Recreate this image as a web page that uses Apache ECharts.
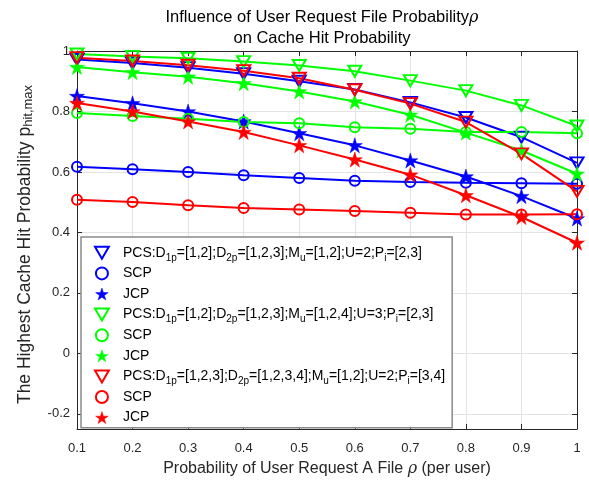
<!DOCTYPE html>
<html>
<head>
<meta charset="utf-8">
<script src="https://cdn.jsdelivr.net/npm/echarts@6/dist/echarts.min.js"></script>
<style>
  html, body { margin: 0; padding: 0; background: #fff; }
  #chart { width: 589px; height: 482px; }
</style>
</head>
<body>
<div id="chart"></div>
<script>
// Probability of a user requesting a file (x axis)
const rho = [0.1, 0.2, 0.3, 0.4, 0.5, 0.6, 0.7, 0.8, 0.9, 1];
const yTicks = [-0.2, 0, 0.2, 0.4, 0.6, 0.8, 1];

// Configuration 1 (blue)
const pcs1 = [0.972, 0.960, 0.945, 0.925, 0.900, 0.873, 0.830, 0.780, 0.715, 0.630];
const scp1 = [0.617, 0.609, 0.600, 0.589, 0.580, 0.571, 0.567, 0.564, 0.563, 0.561];
const jcp1 = [0.851, 0.827, 0.800, 0.767, 0.728, 0.688, 0.638, 0.585, 0.520, 0.446];
// Configuration 2 (green)
const pcs2 = [0.990, 0.982, 0.976, 0.965, 0.952, 0.933, 0.902, 0.869, 0.820, 0.752];
const scp2 = [0.795, 0.785, 0.776, 0.765, 0.761, 0.748, 0.743, 0.732, 0.732, 0.728];
const jcp2 = [0.947, 0.930, 0.915, 0.893, 0.866, 0.833, 0.789, 0.730, 0.671, 0.594];
// Configuration 3 (red)
const pcs3 = [0.978, 0.967, 0.953, 0.935, 0.910, 0.872, 0.826, 0.765, 0.660, 0.536];
const scp3 = [0.508, 0.501, 0.490, 0.481, 0.476, 0.471, 0.465, 0.459, 0.459, 0.460];
const jcp3 = [0.828, 0.800, 0.767, 0.732, 0.688, 0.641, 0.591, 0.523, 0.451, 0.366];

const legendLabels = [
  'PCS:D{s|1p}=[1,2];D{s|2p}=[1,2,3];M{s|u}=[1,2];U=2;P{s|i}=[2,3]', 'SCP', 'JCP',
  'PCS:D{s|1p}=[1,2];D{s|2p}=[1,2,3];M{s|u}=[1,2,4];U=3;P{s|i}=[2,3]', 'SCP', 'JCP',
  'PCS:D{s|1p}=[1,2,3];D{s|2p}=[1,2,3,4];M{s|u}=[1,2];U=2;P{s|i}=[3,4]', 'SCP', 'JCP'
];

// marker shapes
const triDown = 'path://M0,0L2,0L1,1.732Z';
const star = (function () {
  let d = '';
  for (let i = 0; i < 10; i++) {
    const r = i % 2 ? 0.382 : 1;
    const a = (-90 + 36 * i) * Math.PI / 180;
    d += (i ? 'L' : 'M') + (r * Math.cos(a)).toFixed(4) + ',' + (r * Math.sin(a)).toFixed(4);
  }
  return 'path://' + d + 'Z';
})();

const groups = [
  { color: '#0000ff', data: [pcs1, scp1, jcp1] },
  { color: '#00ff00', data: [pcs2, scp2, jcp2] },
  { color: '#ff0000', data: [pcs3, scp3, jcp3] }
];
const kinds = [
  { symbol: triDown, size: [13, 11], hollow: true, legendIcon: triDown },
  { symbol: 'circle', size: 10, hollow: true, legendIcon: 'circle' },
  { symbol: star, size: 15, hollow: false, legendIcon: star }
];

const series = [];
const legendData = [];
groups.forEach(function (g, gi) {
  g.data.forEach(function (vals, ki) {
    const k = kinds[ki];
    const name = 's' + gi + '_' + ki;
    series.push({
      name: name,
      type: 'line',
      data: rho.map(function (x, i) { return [x, vals[i]]; }),
      symbol: k.symbol,
      symbolSize: k.size,
      showAllSymbol: true,
      silent: true,
      animation: false,
      lineStyle: { color: g.color, width: 2 },
      itemStyle: k.hollow
        ? { color: 'none', borderColor: g.color, borderWidth: 2 }
        : { color: g.color, borderColor: g.color, borderWidth: 0.5 },
      emphasis: { disabled: true }
    });
    legendData.push({
      name: name,
      icon: k.legendIcon,
      itemStyle: k.hollow
        ? { color: '#fff', borderColor: g.color, borderWidth: 2 }
        : { color: g.color, borderColor: g.color, borderWidth: 0.5 }
    });
  });
});
const labelByName = {};
legendData.forEach(function (d, i) { labelByName[d.name] = legendLabels[i]; });

const font = '"Liberation Sans", Arial, Helvetica, sans-serif';
const axisColor = '#262626';
const fmt = function (v) { return String(+v.toFixed(1)); };
const greekStyle = { fontFamily: '"DejaVu Serif", serif', fontStyle: 'italic' };

const option = {
  backgroundColor: '#fff',
  animation: false,
  textStyle: { fontFamily: font },
  title: {
    text: 'Influence of User Request File Probability{i|ρ}\non Cache Hit Probability',
    left: 317,
    top: 2,
    textAlign: 'center',
    textStyle: {
      fontFamily: font, fontSize: 16.5, fontWeight: 'normal', color: '#000', lineHeight: 21,
      rich: { i: Object.assign({ fontSize: 16, lineHeight: 21 }, greekStyle) }
    }
  },
  grid: { left: 77, right: 12, top: 51, bottom: 52, containLabel: false },
  xAxis: [{
    type: 'value', min: 0.1, max: 1, interval: 0.1,
    name: 'Probability of User Request A File {i|ρ} (per user)',
    nameLocation: 'middle', nameGap: 32,
    nameTextStyle: {
      fontFamily: font, fontSize: 16, color: axisColor,
      rich: { i: Object.assign({ fontSize: 16 }, greekStyle) }
    },
    axisLine: { show: true, onZero: false, lineStyle: { color: axisColor, width: 1 } },
    axisTick: { show: true, inside: true, length: 5, lineStyle: { color: axisColor } },
    axisLabel: { color: axisColor, fontSize: 13, margin: 13, formatter: fmt },
    splitLine: { show: true, lineStyle: { color: '#e3e3e3', width: 1 } }
  }, {
    type: 'value', min: 0.1, max: 1, interval: 0.1, position: 'top',
    axisLine: { show: true, onZero: false, lineStyle: { color: axisColor, width: 1 } },
    axisTick: { show: true, inside: true, length: 5, lineStyle: { color: axisColor } },
    axisLabel: { show: false }, splitLine: { show: false }
  }],
  yAxis: [{
    type: 'value', min: -0.25, max: 1,
    name: 'The Highest Cache Hit Probability p{s|hit,max}',
    nameLocation: 'middle', nameGap: 42,
    nameTextStyle: {
      fontFamily: font, fontSize: 17.5, color: axisColor, lineHeight: 20,
      padding: [0, 9, 0, 0],
      rich: { s: { fontSize: 13, lineHeight: 10, verticalAlign: 'bottom' } }
    },
    axisLine: { show: true, onZero: false, lineStyle: { color: axisColor, width: 1 } },
    axisTick: { show: true, inside: true, length: 5, lineStyle: { color: axisColor }, customValues: yTicks },
    axisLabel: { color: axisColor, fontSize: 13, margin: 7, formatter: fmt, customValues: yTicks },
    splitLine: { show: true, lineStyle: { color: '#e3e3e3', width: 1 } }
  }, {
    type: 'value', min: -0.25, max: 1, position: 'right',
    axisLine: { show: true, onZero: false, lineStyle: { color: axisColor, width: 1 } },
    axisTick: { show: true, inside: true, length: 5, lineStyle: { color: axisColor }, customValues: yTicks },
    axisLabel: { show: false, customValues: yTicks }, splitLine: { show: false }
  }],
  legend: {
    orient: 'vertical',
    left: 81,
    top: 237,
    padding: [5.8, 7, 0.2, 13],
    itemWidth: 32,
    itemHeight: 12,
    itemGap: 0.6,
    selectedMode: false,
    backgroundColor: '#fff',
    borderColor: '#8a8a8a',
    borderWidth: 1.5,
    data: legendData,
    formatter: function (name) { return labelByName[name]; },
    textStyle: {
      fontFamily: font, fontSize: 14, color: '#000', lineHeight: 20,
      rich: { s: { fontSize: 10, lineHeight: 3, verticalAlign: 'bottom' } }
    }
  },
  series: series
};

const chart = echarts.init(document.getElementById('chart'), null, { renderer: 'canvas' });
chart.setOption(option);
</script>
</body>
</html>
